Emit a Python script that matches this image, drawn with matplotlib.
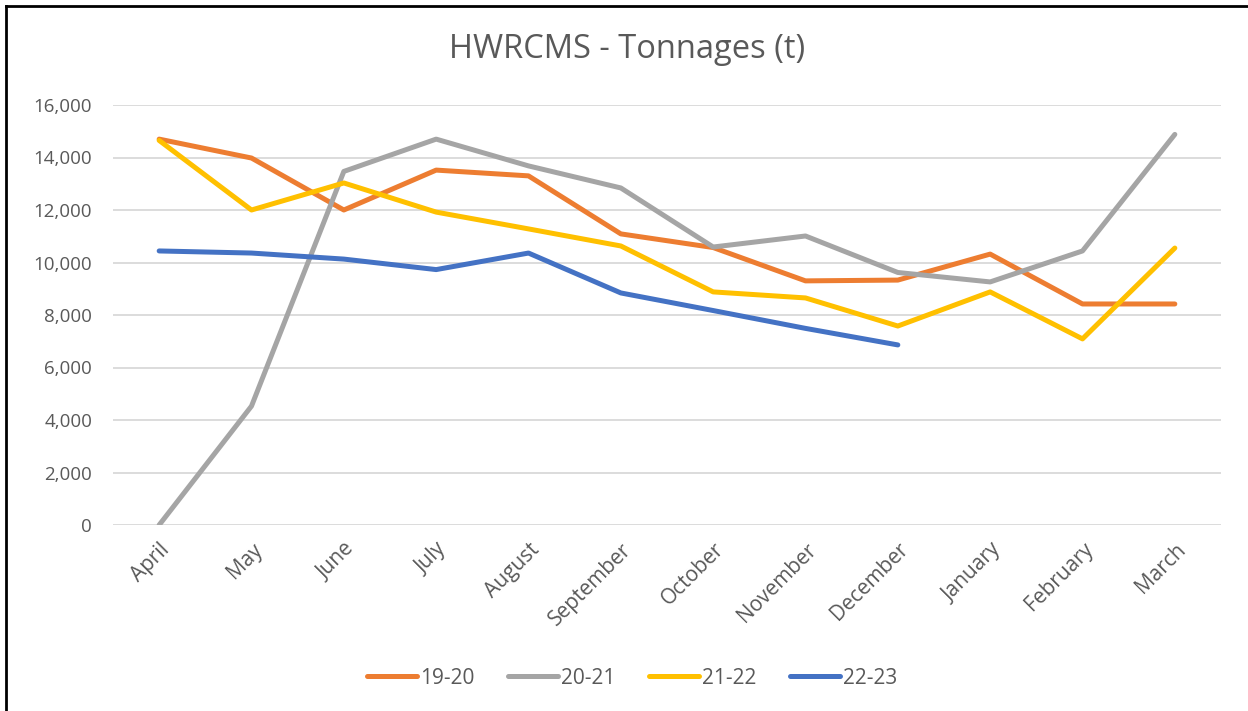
import matplotlib
matplotlib.use("Agg")
import matplotlib.pyplot as plt
from matplotlib.lines import Line2D

months = ["April", "May", "June", "July", "August", "September", "October",
          "November", "December", "January", "February", "March"]
s1920 = [14700, 13980, 12000, 13520, 13300, 11090, 10570, 9300, 9330, 10320, 8420, 8420]
s2021 = [0, 4530, 13470, 14700, 13680, 12840, 10590, 11010, 9620, 9260, 10440, 14880]
s2122 = [14650, 12000, 13030, 11920, 11280, 10630, 8880, 8650, 7580, 8880, 7090, 10550]
s2223 = [10440, 10360, 10130, 9730, 10360, 8840, 8170, 7490, 6860]
series = [("19-20", s1920, "#ED7D31"), ("20-21", s2021, "#A5A5A5"),
          ("21-22", s2122, "#FFC000"), ("22-23", s2223, "#4472C4")]
yticks = [0, 2000, 4000, 6000, 8000, 10000, 12000, 14000, 16000]

plt.rcParams['font.family'] = ['Open Sans', 'DejaVu Sans']
txt = "#595959"

fig = plt.figure(figsize=(12.48, 7.11), dpi=100)
ax = fig.add_axes([113/1248, 1-525/711, (1221-113)/1248, 420/711])

for name, vals, col in series:
    ax.plot(range(len(vals)), vals, color=col, lw=3.6, label=name,
            solid_capstyle='round', solid_joinstyle='round')

ax.set_xlim(-0.5, 11.5)
ax.set_ylim(0, 16000)
ax.set_yticks(yticks)
ax.set_yticklabels([f"{v:,}" for v in yticks])
ax.set_xticks(range(len(months)))
ax.set_xticklabels(months, rotation=45, ha='right', rotation_mode='anchor')
ax.tick_params(axis='both', length=0, labelcolor=txt)
ax.tick_params(axis='y', pad=15, labelsize=13.5)
ax.tick_params(axis='x', pad=10, labelsize=15)
ax.grid(axis='y', color='#D9D9D9', lw=1.3)
ax.set_axisbelow(True)
for sp in ax.spines.values():
    sp.set_visible(False)

fig.text(627/1248, 1-50/711, "HWRCMS - Tonnages (t)", ha='center', va='center',
         fontsize=23.5, color=txt)

handles = [Line2D([0], [0], color=c, lw=3.6, solid_capstyle='round') for _, _, c in series]
fig.legend(handles, [n for n, _, _ in series], loc='center', ncol=4,
           bbox_to_anchor=(632/1248, 1-678/711), frameon=False, fontsize=15,
           labelcolor=txt, handlelength=2.4, handletextpad=0.15, columnspacing=1.6)

fig.add_artist(Line2D([6/1248, 6/1248], [0, 1-6/711], color='black', lw=2,
                      transform=fig.transFigure))
fig.add_artist(Line2D([6/1248, 1], [1-6/711, 1-6/711], color='black', lw=2,
                      transform=fig.transFigure))

fig.savefig("out.png", dpi=100, facecolor='white')
